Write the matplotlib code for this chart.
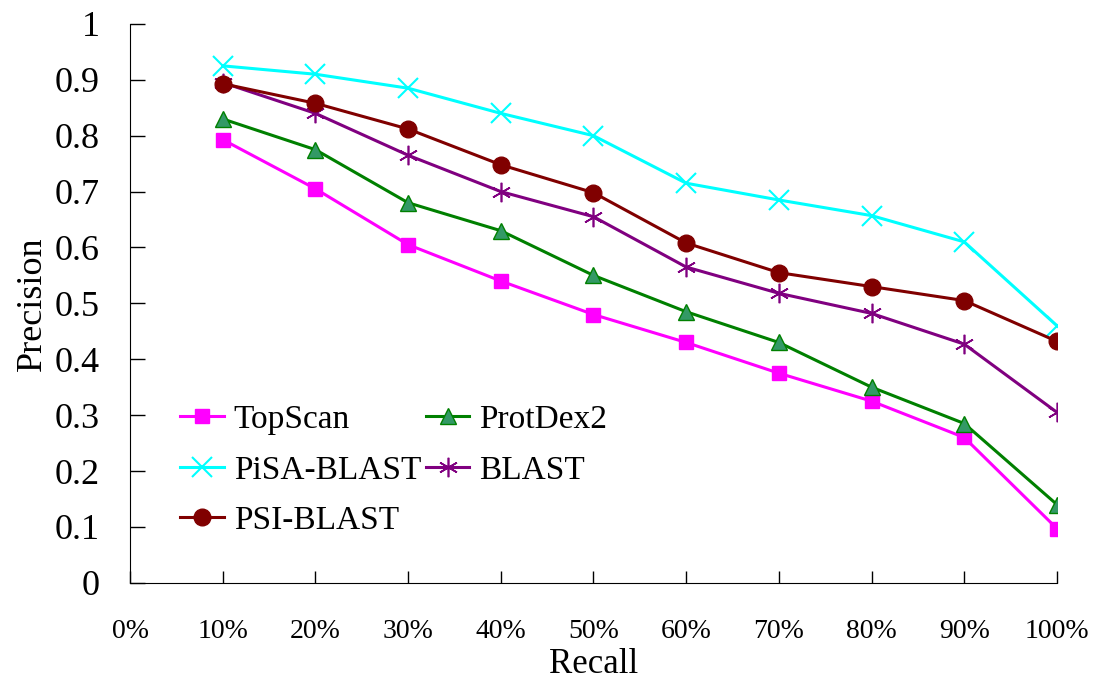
import matplotlib
matplotlib.use('Agg')
import matplotlib.pyplot as plt

recall = [10, 20, 30, 40, 50, 60, 70, 80, 90, 100]
xticks = [0, 10, 20, 30, 40, 50, 60, 70, 80, 90, 100]
xlabels = ['0%', '10%', '20%', '30%', '40%', '50%', '60%', '70%', '80%', '90%', '100%']

topscan = [0.793, 0.705, 0.605, 0.540, 0.480, 0.430, 0.375, 0.325, 0.260, 0.097]
protdex2 = [0.830, 0.775, 0.680, 0.630, 0.550, 0.485, 0.430, 0.350, 0.285, 0.140]
pisa_blast = [0.925, 0.910, 0.885, 0.840, 0.800, 0.715, 0.685, 0.657, 0.610, 0.460]
blast = [0.895, 0.840, 0.765, 0.700, 0.655, 0.565, 0.518, 0.482, 0.427, 0.305]
psi_blast = [0.893, 0.858, 0.812, 0.748, 0.698, 0.608, 0.555, 0.530, 0.505, 0.432]

plt.rcParams['font.family'] = ['Liberation Serif', 'DejaVu Serif']

fig = plt.figure(figsize=(10.93, 6.84), dpi=100)
ax = fig.add_axes([0.119, 0.148, 0.848, 0.817])

ax.plot(recall, topscan, color='#FF00FF', lw=2.2, marker='s', ms=10,
        mfc='#FF00FF', mec='#FF00FF', label='TopScan')
ax.plot(recall, pisa_blast, color='#00FFFF', lw=2.2, marker='x', ms=14,
        mew=1.5, label='PiSA-BLAST')
ax.plot(recall, blast, color='#800080', lw=2.2, marker=(6, 2, 0), ms=14,
        mew=1.2, label='BLAST')
ax.plot(recall, psi_blast, color='#800000', lw=2.2, marker='o', ms=12,
        label='PSI-BLAST')
ax.plot(recall, protdex2, color='#008000', lw=2.2, marker='^', ms=11,
        mfc='#339966', mec='#008000', label='ProtDex2')

ax.set_xlim(0, 100)
ax.set_ylim(0, 1)
ax.set_xticks(xticks)
ax.set_xticklabels(xlabels)
ax.set_yticks([0, 0.1, 0.2, 0.3, 0.4, 0.5, 0.6, 0.7, 0.8, 0.9, 1])
ax.set_yticklabels(['0', '0.1', '0.2', '0.3', '0.4', '0.5', '0.6', '0.7', '0.8', '0.9', '1'])
ax.spines['top'].set_visible(False)
ax.spines['right'].set_visible(False)
ax.tick_params(axis='x', direction='in', length=9, width=1, pad=26, labelsize=20)
ax.tick_params(axis='y', direction='in', length=11, width=1, pad=22, labelsize=26)
ax.set_xlabel('Recall', fontsize=25, labelpad=3)
ax.set_ylabel('Precision', fontsize=26, labelpad=4)

h, l = ax.get_legend_handles_labels()
order = [0, 1, 3, 4, 2]
ax.legend([h[i] for i in order], [l[i] for i in order],
          ncol=2, frameon=False, fontsize=24, loc='lower left',
          bbox_to_anchor=(0.022, 0.03), handlelength=1.3, columnspacing=0.15,
          labelspacing=0.6, handletextpad=0.3)

fig.savefig('out.png', dpi=100)
